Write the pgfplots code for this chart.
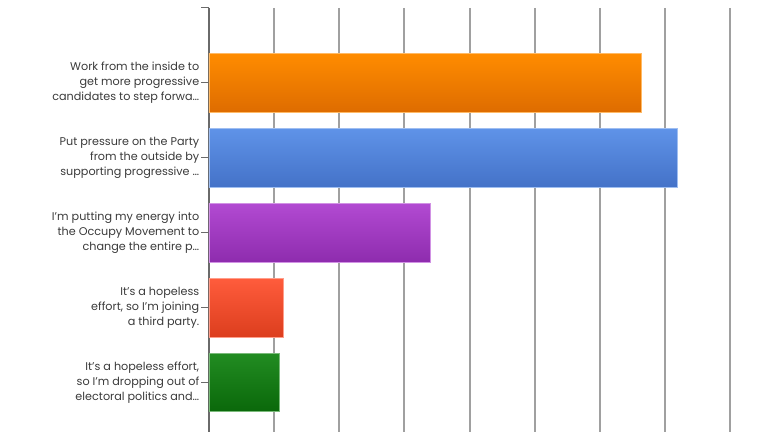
\documentclass[border=0pt]{standalone}
\usepackage{pgfplots}
\pgfplotsset{compat=1.18}
\usepackage{fontspec}
\setmainfont{Poppins}
\definecolor{txt}{HTML}{3A3A3A}
\definecolor{gridc}{HTML}{A0A0A0}
\definecolor{axc}{HTML}{6A6A6A}
\definecolor{orT}{HTML}{FF8C00}
\definecolor{orB}{HTML}{DE6C00}
\definecolor{blT}{HTML}{5F93E8}
\definecolor{blB}{HTML}{4472C8}
\definecolor{puT}{HTML}{B24AD2}
\definecolor{puB}{HTML}{8E2CAE}
\definecolor{reT}{HTML}{FF5C3C}
\definecolor{reB}{HTML}{DC3E1E}
\definecolor{grT}{HTML}{228C22}
\definecolor{grB}{HTML}{0A680A}
\begin{document}
\begin{tikzpicture}
\useasboundingbox (0,0) rectangle (576pt,-324pt);
\clip (0,0) rectangle (576pt,-324pt);
\begin{axis}[
  at={(156.6pt,-5.9pt)}, anchor=north west,
  scale only axis, width=440.1pt, height=337.05pt,
  xbar, bar width=44pt,
  xmin=0, xmax=45, ymin=-1, ymax=5, y dir=reverse,
  xtick={0,5,...,45}, xticklabels={},
  xmajorgrids,
  grid style={gridc, line width=1.4pt},
  axis x line*=bottom, axis y line*=left,
  x axis line style={draw=none},
  y axis line style={axc, line width=1.1pt},
  x tick style={draw=none},
  y tick style={axc, line width=0.8pt},
  tick align=outside,
  major tick length=5.5pt,
  ytick={-1,0,1,2,3,4},
  yticklabels={,{Work from the inside to\\get more progressive\\candidates to step forwa…},
    {Put pressure on the Party\\from the outside by\\supporting progressive …},
    {I'm putting my energy into\\the Occupy Movement to\\change the entire p…},
    {It's a hopeless\\effort, so I'm joining\\a third party.},
    {It's a hopeless effort,\\so I'm dropping out of\\electoral politics and…}},
  yticklabel style={align=right, text=txt, inner sep=1.5pt,
    font=\fontsize{8.4}{11.25}\selectfont},
]
\addplot[bar shift=0pt, top color=orT, bottom color=orB, draw=orT!60!white, line width=0.4pt] coordinates {(33.2,0)};
\addplot[bar shift=0pt, top color=blT, bottom color=blB, draw=blT!60!white, line width=0.4pt] coordinates {(35.95,1)};
\addplot[bar shift=0pt, top color=puT, bottom color=puB, draw=puT!60!white, line width=0.4pt] coordinates {(16.96,2)};
\addplot[bar shift=0pt, top color=reT, bottom color=reB, draw=reT!60!white, line width=0.4pt] coordinates {(5.69,3)};
\addplot[bar shift=0pt, top color=grT, bottom color=grB, draw=grT!60!white, line width=0.4pt] coordinates {(5.43,4)};
\end{axis}
\end{tikzpicture}
\end{document}
